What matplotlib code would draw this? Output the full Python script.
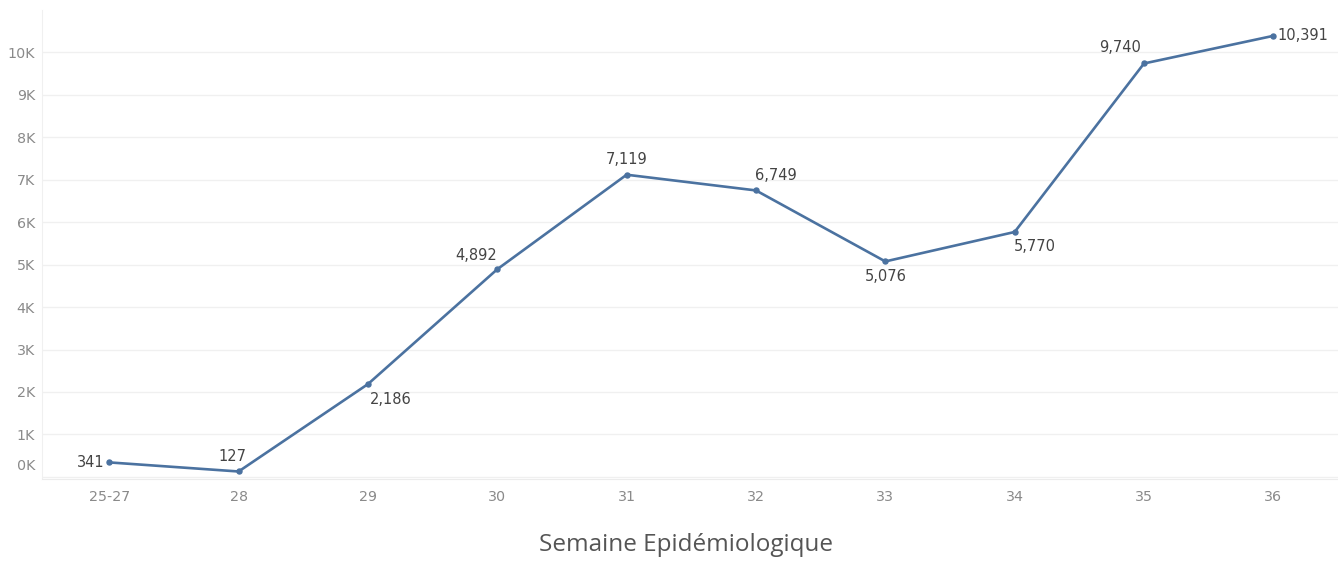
import matplotlib
matplotlib.use("Agg")
import matplotlib.pyplot as plt
import matplotlib.transforms as mtransforms
from matplotlib.ticker import FuncFormatter

categories = ["25-27", "28", "29", "30", "31", "32", "33", "34", "35", "36"]
values = [341, 127, 2186, 4892, 7119, 6749, 5076, 5770, 9740, 10391]
y_ticks = [0, 1000, 2000, 3000, 4000, 5000, 6000, 7000, 8000, 9000, 10000]
x_title = "Semaine Epidémiologique"

# label placement (pixel offsets, alignment) - style only
label_offsets = [(-5, 0, "right", "center"), (-6, 15, "center", "center"),
                 (23, -15, "center", "center"), (-21, 14, "center", "center"),
                 (0, 15, "center", "center"), (20, 15, "center", "center"),
                 (0, -15, "center", "center"), (20, -15, "center", "center"),
                 (-24, 16, "center", "center"), (4, 0, "left", "center")]

W, H = 1338, 564
fig = plt.figure(figsize=(W / 100, H / 100), dpi=100)
ax = fig.add_axes([42 / W, (H - 479) / H, 1 - 42 / W, (479 - 10) / H])

x = list(range(len(categories)))
line_color = "#4b72a0"
ax.plot(x, values, color=line_color, lw=1.9, marker="o", ms=3.6,
        markerfacecolor=line_color, markeredgecolor=line_color, zorder=3,
        solid_joinstyle="round")

for xi, v, (dx, dy, ha, va) in zip(x, values, label_offsets):
    ax.annotate(f"{v:,}", (xi, v), xytext=(dx, dy), textcoords="offset pixels",
                ha=ha, va=va, fontsize=10.5, color="#444444", family="DejaVu Sans")

ax.set_xlim(-0.52, 9.5)
ax.set_ylim(-50, 11000)
ax.set_xticks(x)
ax.set_xticklabels(categories)
ax.set_yticks(y_ticks)
ax.yaxis.set_major_formatter(FuncFormatter(lambda v, p: f"{int(v/1000)}K"))

ax.tick_params(axis="both", length=0, colors="#8a8a8a", labelsize=10.3)
ax.tick_params(axis="y", pad=5)
ax.tick_params(axis="x", pad=8)

# shift 0K label up like the reference
ylabs = ax.get_yticklabels()
offset = mtransforms.ScaledTranslation(0, 12 / 100, fig.dpi_scale_trans)
ylabs[0].set_transform(ylabs[0].get_transform() + offset)

ax.grid(axis="y", color="#f0f0f0", lw=1)
ax.set_axisbelow(True)
for s in ["top", "right"]:
    ax.spines[s].set_visible(False)
ax.spines["left"].set_color("#f0f0f0")
ax.spines["bottom"].set_color("#ececec")

fig.text(686 / W, 1 - 545 / H, x_title, ha="center", va="center",
         fontsize=17.5, color="#555555", family="Open Sans")

fig.savefig("out.png", dpi=100, facecolor="white")
